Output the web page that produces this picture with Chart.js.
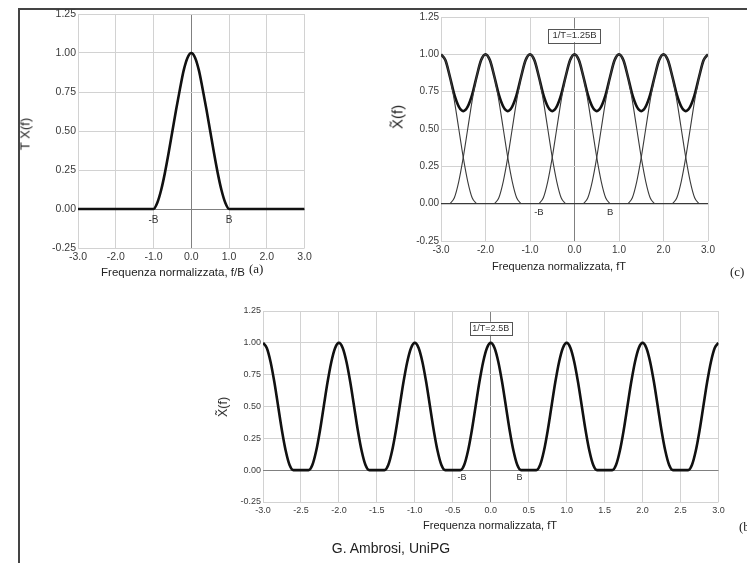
<!DOCTYPE html>
<html>
<head>
<meta charset="utf-8">
<script src="https://cdn.jsdelivr.net/npm/chart.js@4.4.1/dist/chart.umd.min.js"></script>
<style>
  body { margin: 0; background: #fff; width: 747px; height: 563px; overflow: hidden; position: relative;
         font-family: Arial, "Liberation Sans", sans-serif; }
  .frame { position: absolute; left: 18px; top: 8px; width: 760px; height: 600px;
           border-left: 2px solid #444; border-top: 2px solid #444; }
  canvas { position: absolute; }
  .t { position: absolute; white-space: nowrap; color: #222; transform: translate(-50%, -50%); }
  .rot { transform: translate(-50%, -50%) rotate(-90deg); }
  .lab { position: absolute; white-space: nowrap; color: #222; font-family: "Liberation Serif", "Times New Roman", serif; font-size: 13px; transform: translateY(-50%); }
</style>
</head>
<body>
<div class="frame"></div>

<canvas id="chartA" width="320" height="268" style="left:20px;top:0px"></canvas>
<canvas id="chartC" width="345" height="261" style="left:380px;top:0px"></canvas>
<canvas id="chartB" width="535" height="227" style="left:200px;top:295px"></canvas>

<div class="t rot" style="left:25px;top:134px;font-size:13px">T X(f)</div>
<div class="t" style="left:173px;top:272px;font-size:11.5px">Frequenza normalizzata, f/B</div>
<div class="lab" style="left:249px;top:269px">(a)</div>

<div class="t rot" style="left:397px;top:117px;font-size:15px">X&#771;(f)</div>
<div class="t" style="left:559px;top:266px;font-size:11px">Frequenza normalizzata, fT</div>
<div class="lab" style="left:730px;top:272px">(c)</div>

<div class="t rot" style="left:223px;top:407px;font-size:12.5px">X&#771;(f)</div>
<div class="t" style="left:490px;top:525px;font-size:11px">Frequenza normalizzata, fT</div>
<div class="lab" style="left:739px;top:527px">(b)</div>

<div class="t" style="left:391px;top:548px;font-size:14px">G. Ambrosi, UniPG</div>

<script>
// tick labels
const yTicks = [-0.25, 0, 0.25, 0.5, 0.75, 1, 1.25];
const xTicksUnit = [-3, -2, -1, 0, 1, 2, 3];
const xTicksHalf = [-3, -2.5, -2, -1.5, -1, -0.5, 0, 0.5, 1, 1.5, 2, 2.5, 3];

// (a) spettro T X(f), campioni ogni 0.1 da -3.0 a 3.0
const freqStartA = -3.0;
const freqStepA = 0.1;
const spectrumA = [
  0, 0, 0, 0, 0, 0, 0, 0, 0, 0,                     // -3.0 .. -2.1
  0, 0, 0, 0, 0, 0, 0, 0, 0, 0,                     // -2.0 .. -1.1
  0, .04, .12, .23, .36, .50, .64, .77, .89, .97,   // -1.0 .. -0.1
  1.00, .97, .89, .77, .64, .50, .36, .23, .12, .04, // 0.0 .. 0.9
  0, 0, 0, 0, 0, 0, 0, 0, 0, 0,                     // 1.0 .. 1.9
  0, 0, 0, 0, 0, 0, 0, 0, 0, 0,                     // 2.0 .. 2.9
  0                                                 // 3.0
];

// (c) 1/T = 1.25B : somma delle repliche, campioni ogni 0.1
const freqStartC = -3.0;
const freqStepC = 0.1;
const sumC = [
  1.00, .96, .85, .73, .65, .62, .65, .73, .85, .96, // -3.0
  1.00, .96, .85, .73, .65, .62, .65, .73, .85, .96, // -2.0
  1.00, .96, .85, .73, .65, .62, .65, .73, .85, .96, // -1.0
  1.00, .96, .85, .73, .65, .62, .65, .73, .85, .96, // 0.0
  1.00, .96, .85, .73, .65, .62, .65, .73, .85, .96, // 1.0
  1.00, .96, .85, .73, .65, .62, .65, .73, .85, .96, // 2.0
  1.00                                               // 3.0
];
// singole repliche (linee sottili), ognuna con la sua frequenza iniziale
const replicaStartsC = [-3.0, -2.8, -1.8, -0.8, 0.2, 1.2, 2.2];
const replicaM3 = [1, .96, .85, .69, .50, .31, .15, .04, 0];
const replicaM2 = [0, .04, .15, .31, .50, .69, .85, .96, 1, .96, .85, .69, .50, .31, .15, .04, 0];
const replicaM1 = [0, .04, .15, .31, .50, .69, .85, .96, 1, .96, .85, .69, .50, .31, .15, .04, 0];
const replica0  = [0, .04, .15, .31, .50, .69, .85, .96, 1, .96, .85, .69, .50, .31, .15, .04, 0];
const replicaP1 = [0, .04, .15, .31, .50, .69, .85, .96, 1, .96, .85, .69, .50, .31, .15, .04, 0];
const replicaP2 = [0, .04, .15, .31, .50, .69, .85, .96, 1, .96, .85, .69, .50, .31, .15, .04, 0];
const replicaP3 = [0, .04, .15, .31, .50, .69, .85, .96, 1];
const baselineC = [0, 0];

// (b) 1/T = 2.5B : campioni ogni 0.05
const freqStartB = -3.0;
const freqStepB = 0.05;
const spectrumB = [
  1, .96, .85, .69, .50, .31, .15, .04, 0, 0, 0, 0, 0, .04, .15, .31, .50, .69, .85, .96, // -3.0
  1, .96, .85, .69, .50, .31, .15, .04, 0, 0, 0, 0, 0, .04, .15, .31, .50, .69, .85, .96, // -2.0
  1, .96, .85, .69, .50, .31, .15, .04, 0, 0, 0, 0, 0, .04, .15, .31, .50, .69, .85, .96, // -1.0
  1, .96, .85, .69, .50, .31, .15, .04, 0, 0, 0, 0, 0, .04, .15, .31, .50, .69, .85, .96, // 0.0
  1, .96, .85, .69, .50, .31, .15, .04, 0, 0, 0, 0, 0, .04, .15, .31, .50, .69, .85, .96, // 1.0
  1, .96, .85, .69, .50, .31, .15, .04, 0, 0, 0, 0, 0, .04, .15, .31, .50, .69, .85, .96, // 2.0
  1                                                                                        // 3.0
];

const FONT = 'Arial, "Liberation Sans", sans-serif';

// turn a list of values sampled on a regular grid into {x, y} points
function points(start, step, values) {
  return values.map((v, i) => ({ x: +(start + i * step).toFixed(3), y: v }));
}

// labels written inside the plot (-B, B and the 1/T box)
const textMarks = {
  id: 'textMarks',
  afterDatasetsDraw(chart, args, opts) {
    const { ctx } = chart;
    const xs = chart.scales.x, ys = chart.scales.y;
    ctx.save();
    ctx.font = opts.size + 'px ' + FONT;
    ctx.textAlign = 'center';
    ctx.textBaseline = 'middle';
    (opts.items || []).forEach(it => {
      const px = xs.getPixelForValue(it.x);
      const py = ys.getPixelForValue(it.y);
      if (it.box) {
        const w = ctx.measureText(it.text).width + it.box * 2;
        const h = opts.size + 4;
        ctx.fillStyle = '#fff';
        ctx.fillRect(px - w / 2, py - h / 2, w, h);
        ctx.strokeStyle = '#555';
        ctx.lineWidth = 1;
        ctx.strokeRect(Math.round(px - w / 2) + 0.5, Math.round(py - h / 2) + 0.5, Math.round(w), Math.round(h));
      }
      ctx.fillStyle = '#333';
      ctx.fillText(it.text, px, py);
    });
    ctx.restore();
  }
};

function gridColor(ctx) {
  const v = ctx.tick ? ctx.tick.value : null;
  if (v === 0) return '#808080';
  return '#d2d2d2';
}

function makeChart(id, cfg) {
  return new Chart(document.getElementById(id), {
    type: 'line',
    data: { datasets: cfg.datasets },
    plugins: [textMarks],
    options: {
      responsive: false,
      animation: false,
      events: [],
      layout: { padding: { left: 0, top: cfg.padTop, right: cfg.padRight, bottom: 0 } },
      plugins: {
        legend: { display: false },
        tooltip: { enabled: false },
        textMarks: { size: cfg.markSize, items: cfg.marks }
      },
      scales: {
        x: {
          type: 'linear',
          min: -3, max: 3,
          afterBuildTicks: s => { s.ticks = cfg.xTicks.map(v => ({ value: v })); },
          afterFit: s => { s.height = 20; },
          grid: { color: gridColor, drawTicks: false, lineWidth: 1 },
          border: { display: false },
          ticks: {
            font: { size: cfg.tickSize, family: FONT }, color: '#3a3a3a', padding: 3,
            maxRotation: 0, autoSkip: false,
            callback: v => Number(v).toFixed(1)
          }
        },
        y: {
          min: -0.25, max: 1.25,
          afterBuildTicks: s => { s.ticks = yTicks.map(v => ({ value: v })); },
          afterFit: s => { s.width = cfg.yWidth; },
          grid: { color: gridColor, drawTicks: false, lineWidth: 1 },
          border: { display: false },
          ticks: {
            font: { size: cfg.tickSize, family: FONT }, color: '#3a3a3a', padding: 2,
            callback: v => Number(v).toFixed(2)
          }
        }
      }
    }
  });
}

const thick = { borderColor: '#111', borderWidth: 2.6, pointRadius: 0, fill: false, cubicInterpolationMode: 'monotone' };
const thin = { borderColor: '#3a3a3a', borderWidth: 1.1, pointRadius: 0, fill: false, cubicInterpolationMode: 'monotone' };

makeChart('chartA', {
  padTop: 14, padRight: 35.4, yWidth: 58, tickSize: 10.5, markSize: 10,
  xTicks: xTicksUnit,
  datasets: [{ ...thick, data: points(freqStartA, freqStepA, spectrumA) }],
  marks: [{ x: -1.0, y: -0.07, text: '-B' }, { x: 1.0, y: -0.07, text: 'B' }]
});

const replicasC = [replicaM3, replicaM2, replicaM1, replica0, replicaP1, replicaP2, replicaP3];
makeChart('chartC', {
  padTop: 17, padRight: 17, yWidth: 61, tickSize: 10, markSize: 9.5,
  xTicks: xTicksUnit,
  datasets: [
    { ...thin, data: points(-3.0, 6.0, baselineC) },
    ...replicasC.map((r, k) => ({ ...thin, data: points(replicaStartsC[k], freqStepC, r) })),
    { ...thick, data: points(freqStartC, freqStepC, sumC) }
  ],
  marks: [
    { x: -0.8, y: -0.055, text: '-B' }, { x: 0.8, y: -0.055, text: 'B' },
    { x: 0, y: 1.127, text: '1/T=1.25B', box: 4 }
  ]
});

makeChart('chartB', {
  padTop: 16, padRight: 16.5, yWidth: 63, tickSize: 9, markSize: 9,
  xTicks: xTicksHalf,
  datasets: [{ ...thick, data: points(freqStartB, freqStepB, spectrumB) }],
  marks: [
    { x: -0.38, y: -0.058, text: '-B' }, { x: 0.38, y: -0.058, text: 'B' },
    { x: 0, y: 1.114, text: '1/T=2.5B', box: 2.5 }
  ]
});
</script>
</body>
</html>
